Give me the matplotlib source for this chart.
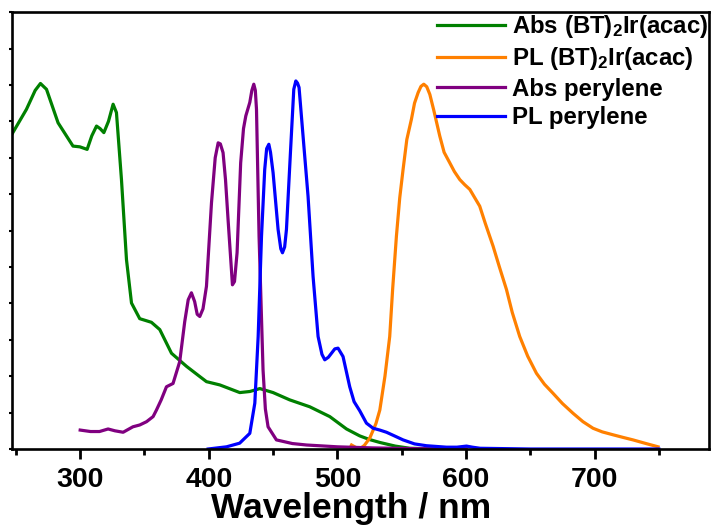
import matplotlib
matplotlib.use("Agg")
import matplotlib.pyplot as plt
from matplotlib.ticker import MultipleLocator, NullFormatter

plt.rcParams["font.family"] = ["Liberation Sans", "DejaVu Sans"]
plt.rcParams["font.weight"] = "bold"
plt.rcParams["mathtext.fontset"] = "custom"
plt.rcParams["mathtext.rm"] = "Liberation Sans:bold"
plt.rcParams["mathtext.bf"] = "Liberation Sans:bold"
plt.rcParams["mathtext.default"] = "bf"

# ---- data ----
abs_ir_wl = [246.8, 258.2, 265, 269.1, 273.8, 282.8, 294.4, 299.7, 305.4, 309, 312.7,
             315.5, 318.4, 322, 325.6, 328.2, 332.1, 336.0, 339.9, 346.3, 355.4, 361.9,
             371.0, 382.7, 393.0, 398.2, 408.6, 424.1, 432, 439.7, 450.0, 462.9, 478.5,
             494.1, 507.1, 517.4, 525, 533.0, 545, 556.3, 580, 600]
abs_ir = [0.864, 0.933, 0.985, 1.004, 0.988, 0.896, 0.832, 0.830, 0.823, 0.860, 0.887,
          0.880, 0.869, 0.900, 0.947, 0.924, 0.740, 0.520, 0.401, 0.358, 0.348, 0.328,
          0.263, 0.227, 0.199, 0.185, 0.176, 0.155, 0.158, 0.166, 0.155, 0.135, 0.116,
          0.089, 0.055, 0.036, 0.026, 0.018, 0.008, 0.002, 0.0, 0.0]

pl_ir_wl = [511, 515, 518, 521, 525.2, 530, 533, 537, 540.7, 543, 545.9, 548.5, 551.1,
            554, 557.6, 560, 562.8, 565, 567.2, 569.5, 571.9, 575, 579.6, 583, 587.4,
            591, 595.2, 599, 603, 606, 610.7, 615, 621.1, 626, 631.5, 636, 641.8, 648,
            654.8, 661, 667.7, 675, 683.3, 691, 698.8, 706, 714.4, 722, 729.9, 740, 749.4]
pl_ir = [0.011, 0.003, 0.002, 0.010, 0.030, 0.070, 0.107, 0.200, 0.309, 0.440, 0.584,
         0.690, 0.768, 0.850, 0.906, 0.950, 0.979, 0.996, 1.002, 0.995, 0.974, 0.930,
         0.860, 0.815, 0.786, 0.762, 0.740, 0.726, 0.713, 0.695, 0.667, 0.620, 0.557,
         0.500, 0.438, 0.375, 0.309, 0.255, 0.208, 0.178, 0.153, 0.125, 0.098, 0.075,
         0.057, 0.047, 0.039, 0.032, 0.025, 0.015, 0.006]

abs_per_wl = [300, 308, 315, 321.7, 327, 333.4, 341, 346.3, 351.6, 356.7, 359.3, 363,
              367.1, 372.2, 377.4, 381.3, 384, 386.5, 389, 391, 393, 395.5, 398.2, 402.1,
              405, 407.3, 409, 411.1, 413, 415, 418.4, 420, 422, 424.8, 427, 428.8, 431.9,
              433.5, 435, 436.2, 437.1, 439.1, 442.2, 444, 446.1, 452.6, 465, 476, 500,
              527.5, 560, 600]
abs_per = [0.052, 0.048, 0.048, 0.055, 0.050, 0.046, 0.061, 0.066, 0.075, 0.089, 0.107,
           0.135, 0.171, 0.180, 0.240, 0.350, 0.410, 0.429, 0.405, 0.370, 0.364, 0.385,
           0.447, 0.676, 0.800, 0.841, 0.838, 0.814, 0.740, 0.630, 0.451, 0.460, 0.539,
           0.786, 0.880, 0.915, 0.952, 0.985, 1.002, 0.985, 0.933, 0.584, 0.217, 0.110,
           0.061, 0.025, 0.015, 0.011, 0.006, 0.003, 0.001, 0.0]

pl_per_wl = [399.5, 413.8, 424, 431.9, 435.8, 438.4, 441, 443.5, 445, 446.7, 448, 450,
             453.9, 456, 457.3, 459, 460.4, 463.5, 466.1, 467.7, 469, 470.2, 473.3, 477.2,
             481.1, 485, 488, 490.2, 493, 495.4, 498, 500.5, 504.4, 509.6, 513, 517.4,
             522.6, 527.8, 533, 538.2, 545, 551.1, 560, 569.3, 584.8, 593, 600.4, 605,
             611, 650, 750]
pl_per = [0.0, 0.006, 0.016, 0.043, 0.126, 0.309, 0.584, 0.768, 0.825, 0.837, 0.815,
          0.759, 0.603, 0.550, 0.539, 0.555, 0.603, 0.814, 0.988, 1.011, 1.005, 0.993,
          0.860, 0.694, 0.474, 0.309, 0.260, 0.245, 0.252, 0.263, 0.275, 0.277, 0.254,
          0.171, 0.130, 0.105, 0.071, 0.057, 0.052, 0.046, 0.035, 0.025, 0.014, 0.009,
          0.005, 0.005, 0.008, 0.005, 0.002, 0.0, 0.0]

labels = [r"Abs (BT)$_2$Ir(acac)", r"PL (BT)$_2$Ir(acac)", "Abs perylene", "PL perylene"]
colors = ["#008000", "#ff8000", "#800080", "#0000ff"]

fig = plt.figure(figsize=(7.12, 5.27), dpi=100)
ax = fig.add_axes([0.0169, 0.148, 0.9789, 0.829])

series = [(abs_ir_wl, abs_ir), (pl_ir_wl, pl_ir), (abs_per_wl, abs_per), (pl_per_wl, pl_per)]
for (wl, val), lab, col in zip(series, labels, colors):
    ax.plot(wl, val, color=col, lw=2.3, label=lab, solid_joinstyle="round")

ax.set_xlim(247, 789)
ax.set_ylim(0, 1.2)
ax.xaxis.set_major_locator(MultipleLocator(100))
ax.xaxis.set_minor_locator(MultipleLocator(50))
ax.yaxis.set_major_locator(MultipleLocator(0.1))
ax.yaxis.set_major_formatter(NullFormatter())
ax.tick_params(axis="x", which="major", direction="out", length=7, width=2,
               labelsize=20.5, pad=6)
ax.tick_params(axis="x", which="minor", direction="out", length=4, width=2)
ax.tick_params(axis="y", which="major", direction="out", length=2, width=1.5)
for lbl in ax.get_xticklabels():
    lbl.set_fontweight("bold")
for sp in ax.spines.values():
    sp.set_linewidth(1.9)

ax.set_xlabel("Wavelength / nm", fontsize=25.5, fontweight="bold", labelpad=-1)
ax.xaxis.label.set_x(0.487)

ax.legend(loc="upper right", bbox_to_anchor=(1.016, 1.025), frameon=False,
          prop={"size": 17.3, "weight": "bold"}, handlelength=2.8,
          handletextpad=0.3, labelspacing=0.22, borderaxespad=0.1)

fig.savefig("out.png", dpi=100)
